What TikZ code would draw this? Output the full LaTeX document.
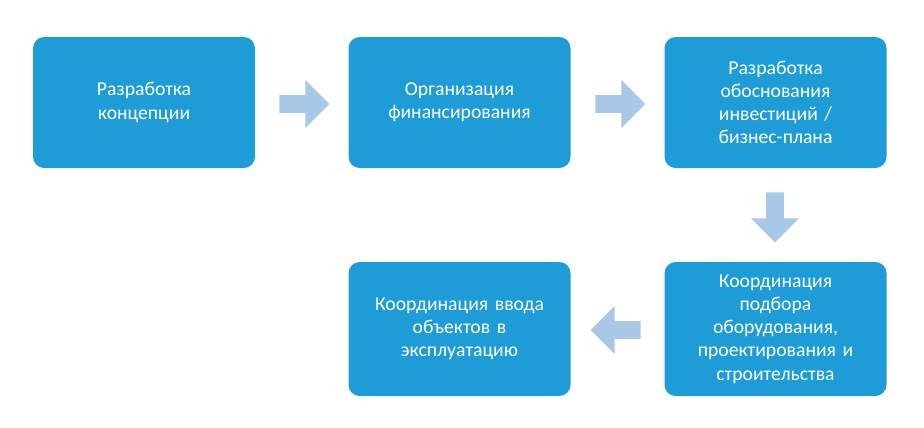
\documentclass[tikz,border=0pt]{standalone}
\usepackage{fontspec}
\setmainfont{Carlito}
\usetikzlibrary{shapes.arrows}
\definecolor{boxblue}{HTML}{1E9CD7}
\definecolor{arrblue}{HTML}{A9C8E8}
\begin{document}
\begin{tikzpicture}[
    stepbox/.style={rectangle, rounded corners=8pt, fill=boxblue, text=white,
      minimum width=5.55cm, minimum height=3.275cm, align=center,
      text width=5cm, font=\fontsize{14}{16.5}\selectfont},
    flowarrow/.style={single arrow, fill=arrblue, minimum width=1.2cm,
      minimum height=1.25cm, single arrow head extend=0.3cm, inner sep=0.17cm}]
      \useasboundingbox (0, 0) rectangle (23.1, -10.675);
      \node[stepbox] (1) at (3.6, -2.5625) {Разработка\\концепции};
      \node[stepbox] (2) at (11.4875, -2.5625) {Организация\\финансирования};
      \node[stepbox] (3) at (19.3875, -2.5625) {Разработка\\обоснования\\инвестиций /\\бизнес-плана};
      \node[stepbox, minimum height=3.35cm] (5) at (19.3875, -8.225) {Координация\\подбора\\оборудования,\\проектирования и\\строительства};
      \node[stepbox, minimum height=3.35cm] (4) at (11.4875, -8.225) {Координация ввода\\объектов в\\эксплуатацию};

      \node[flowarrow] (a12) at (7.5, -2.6) {};
      \node[flowarrow] (a23) at (15.4, -2.6) {};
      \node[flowarrow, shape border rotate=270] (a35) at (19.375, -5.325) {};
      \node[flowarrow, shape border rotate=180] (a54) at (15.5, -8.25) {};
    \end{tikzpicture}
\end{document}
